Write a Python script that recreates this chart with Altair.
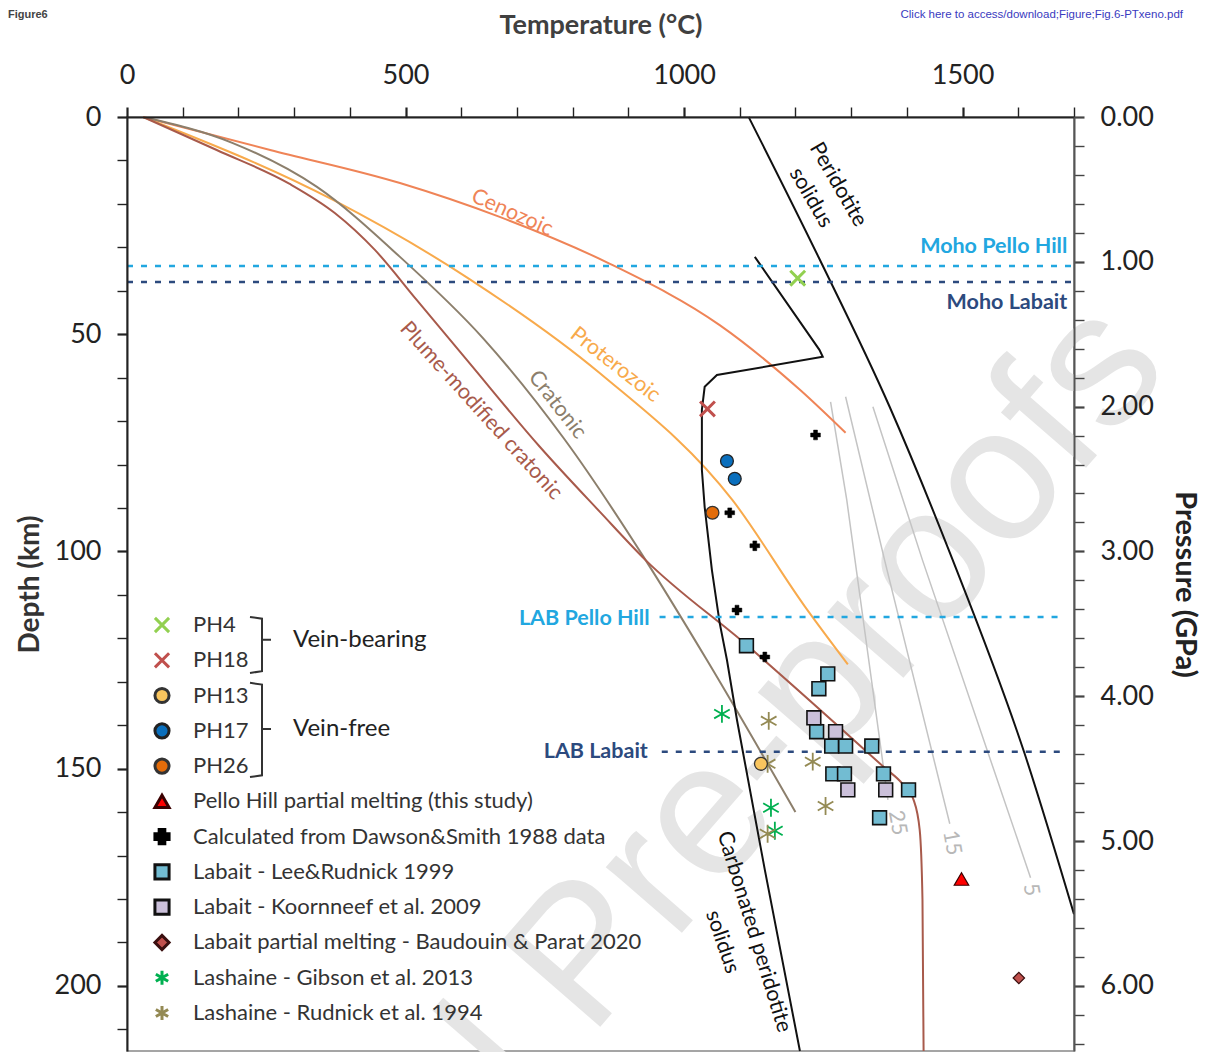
import altair as alt
import pandas as pd

# ---------------- data ----------------
# geotherms: temperature (degC) vs depth (km)
cenozoic_T = [29, 257, 490, 669, 867, 1064, 1208, 1290]
cenozoic_D = [0, 7.6, 15.2, 23.0, 33.8, 47.9, 62.8, 72.7]
proterozoic_T = [29, 370, 610, 849, 1087, 1217, 1294]
proterozoic_D = [0, 19.1, 36.9, 59.0, 88.2, 112.7, 126.0]
cratonic_T = [29, 190, 341, 490, 639, 786, 931, 1041, 1200]
cratonic_D = [0, 6.0, 16.1, 32.2, 50.9, 74.3, 102.0, 125.0, 160.0]
plume_T = [29, 161, 292, 373, 445, 520, 610, 741, 849, 931, 1112, 1360, 1392, 1412, 1423, 1428, 1430]
plume_D = [0, 7.6, 15.4, 22.1, 30.6, 42.1, 55.9, 75.9, 90.9, 102.0, 121.5, 149.8, 153.5, 157.2, 164.1, 180.2, 215]

# solidi
perid_T = [1116, 1242, 1369, 1482, 1611, 1700]
perid_D = [0, 32.4, 66.7, 101.9, 146.4, 183.5]
carb_T = [1127, 1243, 1249, 1059, 1037, 1032, 1032, 1037, 1050, 1064, 1077, 1095, 1145, 1208]
carb_D = [32.2, 53.6, 55.2, 59.4, 62.1, 67.4, 81.2, 89.8, 104.3, 116.5, 125.0, 138.8, 173.3, 215]

# isopleths (grey)
iso25_T = [1263, 1292, 1366]
iso25_D = [65.6, 88.1, 157.2]
iso15_T = [1290, 1360, 1477]
iso15_D = [64.4, 102.0, 162.7]
iso5_T = [1339, 1428, 1622]
iso5_D = [66.7, 102.0, 175.1]

# Moho / LAB depths (km)
ph_lines_D = [34.3, 115.1]
ph_lines_T0 = [0, 956]
ph_lines_T1 = [1700, 1683]
lb_lines_D = [38.0, 146.1]
lb_lines_T0 = [0, 960]
lb_lines_T1 = [1700, 1683]

# samples
ph4_T, ph4_D = [1204], [37.1]
ph18_T, ph18_D = [1042], [67.2]
ph13_T, ph13_D = [1138], [148.9]
ph17_T, ph17_D = [1077, 1091], [79.2, 83.3]
ph26_T, ph26_D = [1051], [91.1]
phmelt_T, phmelt_D = [1498], [175.4]
dawson_T = [1236, 1082, 1127, 1095, 1145]
dawson_D = [73.2, 91.1, 98.7, 113.5, 124.3]
lee_T = [1112, 1258, 1242, 1238, 1265, 1290, 1337, 1267, 1288, 1358, 1403, 1351]
lee_D = [121.7, 128.2, 131.6, 141.5, 144.8, 144.8, 144.8, 151.2, 151.2, 151.2, 154.9, 161.3]
koor_T = [1233, 1272, 1294, 1362]
koor_D = [138.3, 141.5, 154.9, 154.9]
baud_T, baud_D = [1601], [198.2]
gibson_T = [1068, 1156, 1163]
gibson_D = [137.4, 159.0, 164.3]
rudnick_T = [1152, 1150, 1231, 1254, 1150]
rudnick_D = [139.0, 148.9, 148.4, 158.6, 165.0]

# in-plot labels
ann_text = ["Cenozoic", "Proterozoic", "Cratonic", "Plume-modified cratonic",
            "Peridotite", "solidus", "Carbonated peridotite", "solidus", "25", "15", "5"]
ann_T = [691, 876, 772, 635, 1276, 1227, 1125, 1068, 1382, 1480, 1622]
ann_D = [22.1, 57.1, 66.3, 67.7, 15.6, 18.6, 187.6, 189.9, 162.5, 167.1, 177.9]
ann_angle = [24, 38, 52, 48, 60, 60, 73, 71, 80, 80, 80]

bound_text = ["Moho Pello Hill", "Moho Labait", "LAB Pello Hill", "LAB Labait"]
bound_T = [1688, 1688, 938, 935]
bound_D = [29.9, 42.8, 115.5, 146.1]

legend_labels = ["PH4", "PH18", "PH13", "PH17", "PH26",
                 "Pello Hill partial melting (this study)",
                 "Calculated from Dawson&Smith 1988 data",
                 "Labait - Lee&Rudnick 1999",
                 "Labait - Koornneef et al. 2009",
                 "Labait partial melting - Baudouin & Parat 2020",
                 "Lashaine - Gibson et al. 2013",
                 "Lashaine - Rudnick et al. 1994"]

# ---------------- styles ----------------
FONT = "Lato"
C_CENO, C_PROT, C_CRAT, C_PLUME = "#ef8457", "#f8aa4c", "#8c7f6c", "#a85a4b"
C_PH, C_LB = "#22a7e0", "#2c4a7e"
C_GREY = "#c4c4c4"
X_PATH = "M-1,-1L1,1M-1,1L1,-1"
AST_PATH = "M0,-1L0,1M-0.87,-0.5L0.87,0.5M-0.87,0.5L0.87,-0.5"

styles = {
    "PH4": dict(shape=X_PATH, fill="transparent", stroke="#92d050", sw=3, size=220),
    "PH18": dict(shape=X_PATH, fill="transparent", stroke="#c0504d", sw=3, size=220),
    "PH13": dict(shape="circle", fill="#f9c55e", stroke="#333333", sw=1.3, size=165),
    "PH17": dict(shape="circle", fill="#0a6fbd", stroke="#222222", sw=1.3, size=165),
    "PH26": dict(shape="circle", fill="#e36c0a", stroke="#333333", sw=1.3, size=165),
    legend_labels[5]: dict(shape="triangle-up", fill="#ff0000", stroke="#3a0000", sw=1.2, size=210),
    legend_labels[6]: dict(shape="cross", fill="#000000", stroke="#000000", sw=0.5, size=95),
    legend_labels[7]: dict(shape="square", fill="#72bcd2", stroke="#111111", sw=1.6, size=190),
    legend_labels[8]: dict(shape="square", fill="#cbc0da", stroke="#111111", sw=1.6, size=190),
    legend_labels[9]: dict(shape="diamond", fill="#c0504d", stroke="#3a0f0f", sw=1.2, size=130),
    legend_labels[10]: dict(shape=AST_PATH, fill="transparent", stroke="#00b050", sw=1.8, size=320),
    legend_labels[11]: dict(shape=AST_PATH, fill="transparent", stroke="#948a54", sw=1.8, size=320),
}

W, H = 947, 934
T_MAX, D_MAX = 1700, 215
P_MAX = D_MAX * 0.03

xs = alt.Scale(domain=[0, T_MAX], nice=False, zero=False)
ys = alt.Scale(domain=[0, D_MAX], nice=False, reverse=True)

x_axis = alt.Axis(orient="top", title="Temperature (°C)", values=list(range(0, T_MAX + 1, 100)),
                  format="d", labelExpr="datum.value % 500 === 0 ? datum.label : ''",
                  labelFlush=False, labelOverlap=False, grid=False, zindex=1,
                  tickSize=10, tickColor="#222", domainColor="#222", domainWidth=2,
                  tickWidth={"condition": {"test": "datum.value % 500 === 0", "value": 2.2}, "value": 1.4},
                  labelFont=FONT, labelFontSize=27, labelColor="#222", labelPadding=18,
                  titleFont=FONT, titleFontSize=27, titleFontWeight="bold", titleColor="#404040",
                  titlePadding=22)
y_axis = alt.Axis(orient="left", title="Depth (km)", values=list(range(0, D_MAX + 1, 10)),
                  format="d", labelExpr="datum.value % 50 === 0 ? datum.label : ''",
                  labelFlush=False, labelOverlap=False, grid=False, zindex=1,
                  tickSize=10, tickColor="#222", domainColor="#222", domainWidth=2,
                  tickWidth={"condition": {"test": "datum.value % 50 === 0", "value": 2.2}, "value": 1.4},
                  labelFont=FONT, labelFontSize=27, labelColor="#222", labelPadding=16,
                  titleFont=FONT, titleFontSize=28, titleFontWeight="bold", titleColor="#333",
                  titlePadding=10)
p_axis = alt.Axis(orient="right", title="Pressure (GPa)",
                  values=[round(i * 0.2, 1) for i in range(33)],
                  labelExpr="abs(datum.value - round(datum.value)) < 0.001 ? format(datum.value, '.2f') : ''",
                  labelFlush=False, labelOverlap=False, grid=False, zindex=1,
                  tickSize=10, tickColor="#444", domainColor="#555", domainWidth=2,
                  tickWidth={"condition": {"test": "abs(datum.value - round(datum.value)) < 0.001",
                                           "value": 2.2}, "value": 1.4},
                  labelFont=FONT, labelFontSize=27, labelColor="#222", labelPadding=16,
                  titleFont=FONT, titleFontSize=29, titleFontWeight="bold", titleColor="#222",
                  titlePadding=16)


def X(f="T"):
    return alt.X(f"{f}:Q", scale=xs, axis=x_axis)


def Y(f="D"):
    return alt.Y(f"{f}:Q", scale=ys, axis=y_axis)


def pts(T, D):
    return pd.DataFrame({"T": T, "D": D, "o": list(range(len(T)))})


def line(T, D, color, width=2.0, interp="monotone"):
    return alt.Chart(pts(T, D)).mark_line(color=color, strokeWidth=width, interpolate=interp).encode(
        x=X(), y=Y(), order="o:Q")


def marker(T, D, name):
    s = styles[name]
    return alt.Chart(pts(T, D)).mark_point(shape=s["shape"], filled=True, fill=s["fill"], stroke=s["stroke"],
                                           strokeWidth=s["sw"], size=s["size"], opacity=1).encode(x=X(), y=Y())


def text1(t):
    return pd.DataFrame({"t": [t]})


watermark = alt.Chart(text1("Journal Pre-proofs")).mark_text(
    font="Liberation Sans", fontSize=190, color="#e5e5e5", angle=311, align="right", baseline="alphabetic"
).encode(text="t:N", x=alt.value(1045), y=alt.value(252))

hdr1 = alt.Chart(text1("Figure6")).mark_text(
    font="Liberation Sans", fontSize=11, fontWeight="bold", color="#444", align="left", baseline="middle"
).encode(text="t:N", x=alt.value(-119), y=alt.value(-102))
hdr2 = alt.Chart(text1("Click here to access/download;Figure;Fig.6-PTxeno.pdf")).mark_text(
    font="Liberation Sans", fontSize=11.5, color="#3a3ac0", align="right", baseline="middle"
).encode(text="t:N", x=alt.value(1056), y=alt.value(-102))

iso_layers = [line(iso25_T, iso25_D, C_GREY, 1.5, "linear"),
              line(iso15_T, iso15_D, C_GREY, 1.5, "linear"),
              line(iso5_T, iso5_D, C_GREY, 1.5, "linear")]

geo_layers = [line(cenozoic_T, cenozoic_D, C_CENO), line(proterozoic_T, proterozoic_D, C_PROT),
              line(cratonic_T, cratonic_D, C_CRAT), line(plume_T, plume_D, C_PLUME)]

sol_layers = [line(perid_T, perid_D, "#111", 2.0), line(carb_T, carb_D, "#111", 2.0, "linear")]


def hrules(T0, T1, D, color):
    df = pd.DataFrame({"T": T0, "T1": T1, "D": D})
    return alt.Chart(df).mark_rule(color=color, strokeWidth=2.5, strokeDash=[6, 8]).encode(
        x=X(), x2="T1:Q", y=Y())


rule_layers = [hrules(ph_lines_T0, ph_lines_T1, ph_lines_D, C_PH),
               hrules(lb_lines_T0, lb_lines_T1, lb_lines_D, C_LB)]

ann_colors = [C_CENO, C_PROT, C_CRAT, C_PLUME, "#111", "#111", "#111", "#111", "#b8b8b8", "#b8b8b8", "#b8b8b8"]
ann_df = pd.DataFrame({"t": ann_text, "T": ann_T, "D": ann_D, "a": ann_angle, "c": ann_colors})
ann_layer = alt.Chart(ann_df).mark_text(font=FONT, fontSize=21.5, align="center", baseline="middle").encode(
    x=X(), y=Y(), text="t:N", angle=alt.Angle("a:Q", scale=None), color=alt.Color("c:N", scale=None))

bound_df = pd.DataFrame({"t": bound_text, "T": bound_T, "D": bound_D, "c": [C_PH, C_LB, C_PH, C_LB]})
bound_layer = alt.Chart(bound_df).mark_text(font=FONT, fontSize=21.5, fontWeight="bold", align="right",
                                            baseline="middle").encode(
    x=X(), y=Y(), text="t:N", color=alt.Color("c:N", scale=None))

marker_layers = [
    marker(ph4_T, ph4_D, "PH4"), marker(ph18_T, ph18_D, "PH18"),
    marker(dawson_T, dawson_D, legend_labels[6]),
    marker(ph17_T, ph17_D, "PH17"), marker(ph26_T, ph26_D, "PH26"),
    marker(gibson_T, gibson_D, legend_labels[10]), marker(rudnick_T, rudnick_D, legend_labels[11]),
    marker(ph13_T, ph13_D, "PH13"),
    marker(lee_T, lee_D, legend_labels[7]), marker(koor_T, koor_D, legend_labels[8]),
    marker(phmelt_T, phmelt_D, legend_labels[5]), marker(baud_T, baud_D, legend_labels[9]),
]

main = alt.layer(watermark, hdr1, hdr2, *iso_layers, *geo_layers, *sol_layers, *rule_layers,
                 ann_layer, bound_layer, *marker_layers)

# right pressure axis (3 GPa = 100 km)
pressure = alt.Chart(pd.DataFrame({"P": [0, P_MAX]})).mark_point(opacity=0).encode(
    y=alt.Y("P:Q", scale=alt.Scale(domain=[0, P_MAX], nice=False, reverse=True), axis=p_axis))

# ---------------- manual legend (row-based layout) ----------------
n = len(legend_labels)
leg_y = alt.Scale(domain=[0, n - 1], range=[508, 896])
leg_df = pd.DataFrame({"label": legend_labels, "row": list(range(n))})
sty = [styles[l] for l in legend_labels]
leg_sym = alt.Chart(leg_df).mark_point(filled=True, opacity=1).encode(
    x=alt.value(35),
    y=alt.Y("row:Q", scale=leg_y, axis=None),
    shape=alt.Shape("label:N", scale=alt.Scale(domain=legend_labels, range=[s["shape"] for s in sty]), legend=None),
    fill=alt.Fill("label:N", scale=alt.Scale(domain=legend_labels, range=[s["fill"] for s in sty]), legend=None),
    stroke=alt.Stroke("label:N", scale=alt.Scale(domain=legend_labels, range=[s["stroke"] for s in sty]), legend=None),
    strokeWidth=alt.StrokeWidth("label:N", scale=alt.Scale(domain=legend_labels, range=[s["sw"] for s in sty]), legend=None),
    size=alt.Size("label:N", scale=alt.Scale(domain=legend_labels, range=[min(s["size"], 200) for s in sty]), legend=None),
)
leg_txt = alt.Chart(leg_df).mark_text(font=FONT, fontSize=22, color="#333", align="left", baseline="middle").encode(
    x=alt.value(66), y=alt.Y("row:Q", scale=leg_y, axis=None), text="label:N")

groups_df = pd.DataFrame({"t": ["Vein-bearing", "Vein-free"], "row": [0.42, 2.95]})
leg_grp = alt.Chart(groups_df).mark_text(font=FONT, fontSize=24, color="#222", align="left", baseline="middle").encode(
    x=alt.value(166), y=alt.Y("row:Q", scale=leg_y, axis=None), text="t:N")


# brackets: (x offset in px, row position)
def bracket(top, mid, bot, gid):
    bx = [123, 135, 135, 144, 135, 135, 123]
    by = [top, top + 0.05, mid, mid, mid, bot - 0.05, bot]
    return pd.DataFrame({"bx": bx, "row": by, "o": list(range(7)), "g": gid})


br_df = pd.concat([bracket(-0.23, 0.42, 1.36, "a"), bracket(1.64, 2.95, 4.31, "b")])
leg_br = alt.Chart(br_df).mark_line(color="#333", strokeWidth=2).encode(
    x=alt.X("bx:Q", scale=alt.Scale(domain=[0, W], range=[0, W]), axis=None),
    y=alt.Y("row:Q", scale=leg_y, axis=None), order="o:Q", detail="g:N")

legend = alt.layer(leg_sym, leg_txt, leg_grp, leg_br)

chart = alt.layer(main, pressure, legend).resolve_scale(
    x="independent", y="independent"
).properties(
    width=W, height=H,
    autosize=alt.AutoSizeParams(type="none"),
    padding={"left": 119, "top": 109, "right": 130, "bottom": 8},
).configure_view(stroke="#888", strokeWidth=1.5)

chart.save("out.html", embed_options={"renderer": "svg", "actions": False})
